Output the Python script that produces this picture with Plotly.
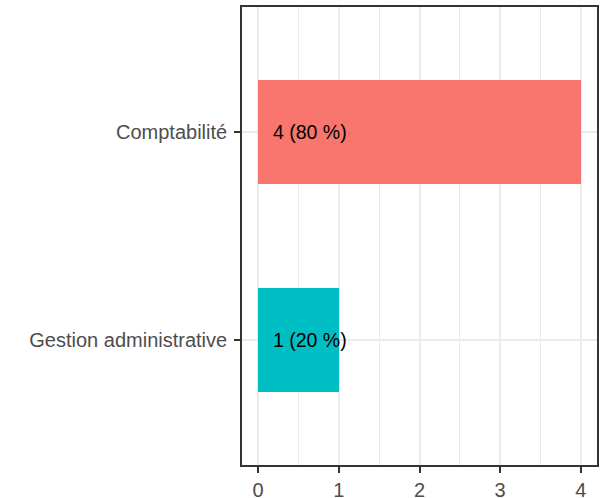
import plotly.graph_objects as go

categories = ["Gestion administrative", "Comptabilité"]
counts = [1, 4]
percents = [20, 80]
colors = ["#00BFC4", "#F8766D"]
x_ticks = [0, 1, 2, 3, 4]

labels = [f"{c} ({p} %)" for c, p in zip(counts, percents)]

fig = go.Figure()
fig.add_trace(go.Bar(
    x=counts, y=categories, orientation="h",
    marker=dict(color=colors, line=dict(width=0)),
    width=0.5, hoverinfo="skip", showlegend=False,
))

for cat, lab in zip(categories, labels):
    fig.add_annotation(x=0.2, y=cat, text=lab, showarrow=False,
                       xanchor="left", yanchor="middle", xshift=-3,
                       font=dict(family="Liberation Sans, Arial", size=19.5, color="#000000"))

fig.update_layout(
    width=603, height=498,
    margin=dict(l=242, r=6, t=7, b=33, autoexpand=False),
    paper_bgcolor="white", plot_bgcolor="white",
    font=dict(family="Liberation Sans, Arial", size=20, color="#4D4D4D"),
    bargap=0,
)
fig.update_xaxes(
    range=[-0.2, 4.2], tickvals=x_ticks, ticktext=[str(v) for v in x_ticks],
    showgrid=True, gridcolor="#EBEBEB", gridwidth=1.6,
    minor=dict(dtick=0.5, tick0=0, showgrid=True, gridcolor="#EBEBEB", gridwidth=0.8, ticks=""),
    showline=True, linecolor="#333333", linewidth=1.6, mirror=True,
    ticks="outside", ticklen=6, tickwidth=1.6, tickcolor="#333333",
    tickfont=dict(size=20, color="#4D4D4D"), zeroline=False,
    ticklabelstandoff=0, automargin=False,
)
fig.update_yaxes(
    categoryorder="array", categoryarray=categories, range=[-0.6, 1.6],
    showgrid=True, gridcolor="#EBEBEB", gridwidth=1.6,
    showline=True, linecolor="#333333", linewidth=1.6, mirror=True,
    ticks="outside", ticklen=6, tickwidth=1.6, tickcolor="#333333",
    tickfont=dict(size=20, color="#4D4D4D"), zeroline=False,
    ticklabelstandoff=3, automargin=False,
)

fig.write_html(
    "out.html",
    config={"displayModeBar": False},
    post_script="document.body.style.margin='0';document.body.style.overflow='hidden';",
)
